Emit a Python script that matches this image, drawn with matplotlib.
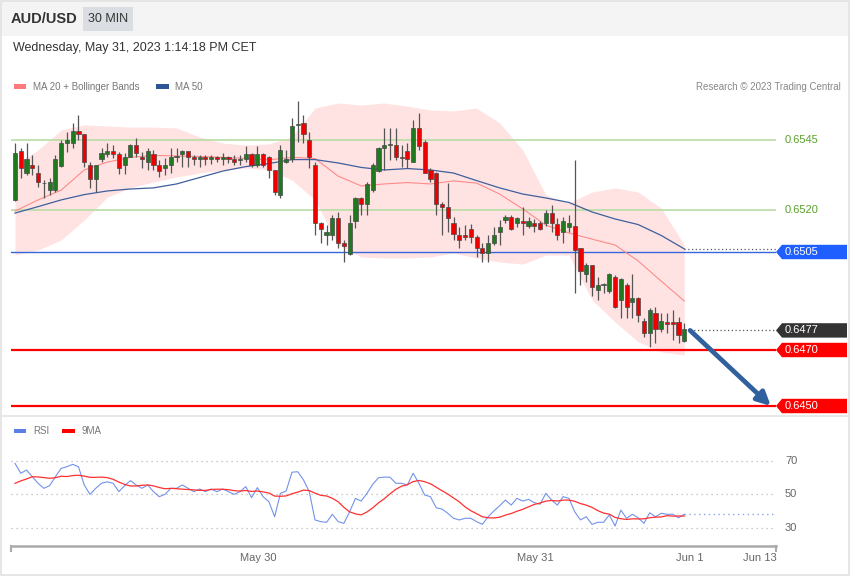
import matplotlib
matplotlib.use("Agg")
import matplotlib.pyplot as plt
import matplotlib.transforms as mtransforms
from matplotlib.patches import Polygon, Rectangle
from matplotlib.lines import Line2D
import numpy as np

plt.rcParams['font.family'] = ['Liberation Sans', 'DejaVu Sans']

# ---------------- data ----------------
symbol = "AUD/USD"
timeframe = "30 MIN"
timestamp = "Wednesday, May 31, 2023 1:14:18 PM CET"

opens = [0.65236, 0.65411, 0.65331, 0.65361, 0.65331, 0.65295, 0.65271, 0.65271, 0.65358, 0.65440,
         0.65440, 0.65482, 0.65470, 0.65361, 0.65311, 0.65382, 0.65401, 0.65411, 0.65401, 0.65361,
         0.65390, 0.65432, 0.65390, 0.65372, 0.65399, 0.65361, 0.65351, 0.65361, 0.65391, 0.65401,
         0.65411, 0.65390, 0.65381, 0.65390, 0.65381, 0.65390, 0.65381, 0.65390, 0.65381, 0.65380,
         0.65381, 0.65399, 0.65361, 0.65399, 0.65390, 0.65343, 0.65254, 0.65373, 0.65381, 0.65505,
         0.65510, 0.65450, 0.65361, 0.65153, 0.65111, 0.65111, 0.65170, 0.65081, 0.65042, 0.65161,
         0.65242, 0.65220, 0.65271, 0.65340, 0.65420, 0.65432, 0.65432, 0.65390, 0.65411, 0.65372,
         0.65492, 0.65444, 0.65343, 0.65331, 0.65221, 0.65210, 0.65153, 0.65111, 0.65111, 0.65131,
         0.65103, 0.65063, 0.65045, 0.65081, 0.65123, 0.65164, 0.65174, 0.65153, 0.65162, 0.65143,
         0.65153, 0.65153, 0.65153, 0.65190, 0.65150, 0.65123, 0.65141, 0.65143, 0.65063, 0.64971,
         0.65004, 0.64914, 0.64932, 0.64912, 0.64962, 0.64879, 0.64932, 0.64872, 0.64885, 0.64805,
         0.64762, 0.64833, 0.64774, 0.64801, 0.64801, 0.64801, 0.64733]
highs = [0.65438, 0.65423, 0.65438, 0.65396, 0.65361, 0.65307, 0.65313, 0.65396, 0.65450, 0.65480,
         0.65510, 0.65539, 0.65472, 0.65372, 0.65362, 0.65420, 0.65438, 0.65432, 0.65408, 0.65403,
         0.65435, 0.65458, 0.65408, 0.65420, 0.65414, 0.65379, 0.65386, 0.65420, 0.65420, 0.65414,
         0.65412, 0.65396, 0.65396, 0.65396, 0.65396, 0.65394, 0.65403, 0.65394, 0.65396, 0.65396,
         0.65430, 0.65403, 0.65430, 0.65404, 0.65394, 0.65344, 0.65432, 0.65414, 0.65528, 0.65589,
         0.65539, 0.65480, 0.65372, 0.65158, 0.65146, 0.65182, 0.65194, 0.65093, 0.65182, 0.65248,
         0.65248, 0.65299, 0.65367, 0.65426, 0.65492, 0.65492, 0.65492, 0.65432, 0.65438, 0.65521,
         0.65545, 0.65450, 0.65349, 0.65337, 0.65229, 0.65295, 0.65176, 0.65141, 0.65146, 0.65150,
         0.65111, 0.65081, 0.65111, 0.65141, 0.65164, 0.65182, 0.65182, 0.65176, 0.65212, 0.65176,
         0.65167, 0.65161, 0.65200, 0.65218, 0.65170, 0.65176, 0.65182, 0.65379, 0.65064, 0.65010,
         0.65005, 0.64962, 0.64938, 0.64974, 0.64968, 0.64956, 0.64938, 0.64971, 0.64890, 0.64813,
         0.64849, 0.64855, 0.64831, 0.64831, 0.64843, 0.64819, 0.64795]
lows = [0.65232, 0.65313, 0.65325, 0.65325, 0.65283, 0.65242, 0.65254, 0.65265, 0.65355, 0.65408,
        0.65420, 0.65450, 0.65355, 0.65277, 0.65263, 0.65372, 0.65390, 0.65385, 0.65330, 0.65330,
        0.65388, 0.65390, 0.65349, 0.65343, 0.65343, 0.65319, 0.65325, 0.65331, 0.65372, 0.65355,
        0.65355, 0.65361, 0.65355, 0.65361, 0.65365, 0.65372, 0.65361, 0.65368, 0.65361, 0.65361,
        0.65372, 0.65355, 0.65355, 0.65355, 0.65313, 0.65254, 0.65243, 0.65367, 0.65372, 0.65444,
        0.65438, 0.65351, 0.65111, 0.65081, 0.65075, 0.65093, 0.65063, 0.65015, 0.65040, 0.65135,
        0.65182, 0.65182, 0.65265, 0.65337, 0.65343, 0.65379, 0.65379, 0.65355, 0.65349, 0.65372,
        0.65414, 0.65332, 0.65301, 0.65182, 0.65111, 0.65123, 0.65093, 0.65063, 0.65093, 0.65081,
        0.65033, 0.65015, 0.65015, 0.65075, 0.65075, 0.65152, 0.65129, 0.65141, 0.65111, 0.65135,
        0.65123, 0.65129, 0.65143, 0.65123, 0.65093, 0.65081, 0.65123, 0.64903, 0.64932, 0.64944,
        0.64893, 0.64879, 0.64902, 0.64902, 0.64849, 0.64813, 0.64813, 0.64813, 0.64801, 0.64748,
        0.64712, 0.64724, 0.64765, 0.64760, 0.64736, 0.64726, 0.64730]
closes = [0.65403, 0.65351, 0.65381, 0.65351, 0.65301, 0.65296, 0.65301, 0.65382, 0.65440, 0.65450,
          0.65482, 0.65470, 0.65372, 0.65311, 0.65361, 0.65403, 0.65411, 0.65401, 0.65349, 0.65390,
          0.65432, 0.65403, 0.65382, 0.65411, 0.65361, 0.65339, 0.65361, 0.65390, 0.65393, 0.65411,
          0.65390, 0.65381, 0.65390, 0.65381, 0.65390, 0.65381, 0.65390, 0.65381, 0.65370, 0.65381,
          0.65399, 0.65361, 0.65399, 0.65361, 0.65343, 0.65263, 0.65414, 0.65381, 0.65501, 0.65506,
          0.65470, 0.65390, 0.65153, 0.65131, 0.65123, 0.65170, 0.65081, 0.65073, 0.65153, 0.65242,
          0.65220, 0.65292, 0.65361, 0.65420, 0.65432, 0.65433, 0.65390, 0.65385, 0.65382, 0.65492,
          0.65429, 0.65333, 0.65310, 0.65221, 0.65212, 0.65170, 0.65114, 0.65093, 0.65103, 0.65103,
          0.65063, 0.65045, 0.65081, 0.65111, 0.65141, 0.65174, 0.65131, 0.65170, 0.65153, 0.65162,
          0.65143, 0.65131, 0.65190, 0.65155, 0.65111, 0.65162, 0.65153, 0.65057, 0.64983, 0.65004,
          0.64924, 0.64932, 0.64936, 0.64971, 0.64852, 0.64952, 0.64852, 0.64885, 0.64825, 0.64762,
          0.64843, 0.64774, 0.64805, 0.64793, 0.64793, 0.64754, 0.64774]

ma_step = 4  # indicator values read every 4th candle
ma20 = [0.65196, 0.65236, 0.65271, 0.65343, 0.65371, 0.65388, 0.65395, 0.65393, 0.65391, 0.65388,
        0.65384, 0.65379, 0.65388, 0.65384, 0.65321, 0.65286, 0.65293, 0.65298, 0.65293, 0.65304,
        0.65296, 0.65257, 0.65204, 0.65146, 0.65118, 0.65096, 0.65075, 0.65018, 0.64946, 0.64875]
ma50 = [0.65189, 0.65212, 0.65236, 0.65255, 0.65268, 0.65275, 0.65279, 0.65293, 0.65316, 0.65339,
        0.65355, 0.65366, 0.65380, 0.65380, 0.65368, 0.65352, 0.65343, 0.65348, 0.65343, 0.65332,
        0.65305, 0.65279, 0.65257, 0.65243, 0.65227, 0.65193, 0.65168, 0.65148, 0.65109, 0.65061]
bb_upper = [0.65361, 0.65414, 0.65486, 0.65504, 0.65500, 0.65496, 0.65496, 0.65493, 0.65461, 0.65439,
            0.65432, 0.65436, 0.65461, 0.65564, 0.65582, 0.65575, 0.65582, 0.65571, 0.65557, 0.65554,
            0.65564, 0.65511, 0.65414, 0.65254, 0.65225, 0.65264, 0.65279, 0.65264, 0.65207, 0.65075]
bb_lower = [0.65039, 0.65057, 0.65093, 0.65164, 0.65246, 0.65279, 0.65300, 0.65318, 0.65332, 0.65343,
            0.65350, 0.65343, 0.65307, 0.65236, 0.65075, 0.65032, 0.65029, 0.65029, 0.65032, 0.65046,
            0.65029, 0.65014, 0.65007, 0.65039, 0.65039, 0.64879, 0.64800, 0.64729, 0.64693, 0.64682]

resistance_levels = [0.6545, 0.6520]
pivot_level = 0.6505
support_levels = [0.6470, 0.6450]
last_price = 0.6477
target_price = 0.6450
target_index = 131

rsi = [68.3, 62.4, 64.3, 60.3, 56.4, 53.4, 55.0, 60.3, 65.3, 66.3,
       67.7, 66.3, 55.4, 49.8, 53.4, 56.4, 57.3, 56.4, 51.4, 55.0,
       58.0, 55.4, 53.4, 55.4, 51.4, 48.4, 49.8, 53.4, 53.4, 55.4,
       53.4, 51.4, 53.0, 51.4, 53.0, 51.4, 53.0, 51.4, 49.8, 51.4,
       54.4, 47.8, 53.8, 48.4, 45.4, 36.4, 50.4, 51.8, 63.0, 63.3,
       58.4, 51.4, 34.5, 33.5, 33.1, 37.9, 33.5, 32.5, 39.4, 47.4,
       45.8, 50.4, 55.8, 59.7, 60.1, 60.0, 56.4, 56.4, 55.4, 62.4,
       56.4, 49.4, 48.4, 41.8, 41.0, 38.5, 35.5, 34.5, 35.5, 35.5,
       33.5, 31.9, 36.4, 39.9, 43.0, 46.4, 43.4, 47.4, 45.8, 46.8,
       44.8, 43.9, 50.4, 46.4, 43.4, 48.4, 47.4, 39.4, 34.5, 36.4,
       31.9, 33.1, 33.1, 37.5, 30.9, 40.4, 35.5, 37.9, 35.8, 32.5,
       38.8, 36.4, 38.5, 37.9, 37.9, 35.8, 37.9]
# 9MA of RSI for the first 8 candles (its earlier inputs are off-chart)
rsi_ma9_head = [56.4, 57.8, 59.0, 60.3, 60.2, 59.8, 59.4, 59.7]
ma9_period = 9
rsi_levels = [70, 50, 30]

date_labels = ["May 30", "May 31", "Jun 1", "Jun 13"]
date_positions = [42.1, 90.1, 117.0, 129.1]

# ---------------- layout helpers ----------------
W, H = 850, 576
def fx(px):
    return px / W
def fy(py):
    return 1 - py / H

fig = plt.figure(figsize=(8.5, 5.76), dpi=100)
fig.patch.set_facecolor("white")

# header band
fig.patches.append(Rectangle((0, fy(36)), 1, 36 / H, transform=fig.transFigure,
                             facecolor="#f4f4f4", edgecolor="none", zorder=0))
fig.patches.append(Rectangle((fx(83), fy(31)), 50 / W, 24 / H, transform=fig.transFigure,
                             facecolor="#dadde2", edgecolor="none", zorder=1))
fig.text(fx(11), fy(19), symbol, fontsize=10.5, fontweight="bold", color="#333333", va="center")
fig.text(fx(108), fy(19), timeframe, fontsize=9, color="#333333", va="center", ha="center")
fig.text(fx(13), fy(48), timestamp, fontsize=9, color="#333333", va="center")

# legend (top)
fig.patches.append(Rectangle((fx(14), fy(88.5)), 12 / W, 4.5 / H, transform=fig.transFigure,
                             facecolor="#ff7b7b", edgecolor="none"))
fig.text(fx(33), fy(86.5), "MA 20 + Bollinger Bands", fontsize=7, color="#777777", va="center")
fig.patches.append(Rectangle((fx(156), fy(88.5)), 13 / W, 4.5 / H, transform=fig.transFigure,
                             facecolor="#2f5597", edgecolor="none"))
fig.text(fx(175), fy(86.5), "MA 50", fontsize=7, color="#777777", va="center")
fig.text(fx(841), fy(86.5), "Research \u00a9 2023 Trading Central", fontsize=7, color="#888888",
         va="center", ha="right")

# RSI legend
fig.patches.append(Rectangle((fx(14), fy(433)), 12 / W, 4.5 / H, transform=fig.transFigure,
                             facecolor="#5b7fe3", edgecolor="none"))
fig.text(fx(33), fy(431), "RSI", fontsize=7, color="#777777", va="center")
fig.patches.append(Rectangle((fx(62), fy(433)), 13 / W, 4.5 / H, transform=fig.transFigure,
                             facecolor="#ff0000", edgecolor="none"))
fig.text(fx(82), fy(431), "9MA", fontsize=7, color="#777777", va="center")

# border + separator
fig.add_artist(Line2D([0, 1], [fy(416), fy(416)], transform=fig.transFigure, color="#e4e4e4", lw=1.2))
fig.patches.append(Rectangle((0.0006, 0.0009), 0.9988, 0.9982, transform=fig.transFigure,
                             fill=False, edgecolor="#e2e2e2", lw=1.2))

# ---------------- price panel ----------------
XL = (-0.693, 131.89)
ax = fig.add_axes([fx(11), fy(415), 765 / W, 355 / H])
ax.set_xlim(*XL)
ax.set_ylim(0.644679, 0.657357)
ax.axis("off")

n = len(closes)
xs = np.arange(n)
x_ma = np.arange(0, n, ma_step)

ax.fill_between(x_ma, bb_lower, bb_upper, color="#ffe3e3", lw=0, zorder=1)

for lv in resistance_levels:
    ax.axhline(lv, color="#b9dca4", lw=1.2, zorder=2)
ax.axhline(pivot_level, color="#3466dc", lw=1.0, zorder=2)
for lv in support_levels:
    ax.axhline(lv, color="#ff0000", lw=1.6, zorder=2)

ax.plot(x_ma, ma20, color="#ff8a8a", lw=0.8, zorder=3)
ax.plot(x_ma, ma50, color="#3f5f9c", lw=0.9, zorder=3)
ax.plot([x_ma[-1], XL[1]], [ma50[-1], ma50[-1]], color="#555b66", lw=0.9,
        linestyle=(0, (1, 2)), zorder=3)
ax.plot([n + 0.0, XL[1]], [last_price, last_price], color="#555555", lw=0.9,
        linestyle=(0, (1, 2)), zorder=3)

# candles
o = np.array(opens); c = np.array(closes); h = np.array(highs); l = np.array(lows)
up = c >= o
ax.vlines(xs, l, h, color="#555555", lw=0.9, zorder=4)
body_bottom = np.minimum(o, c)
body_h = np.maximum(np.abs(c - o), 0.00002)
colors = np.where(up, "#1f7a1f", "#ee0000")
ax.bar(xs, body_h, bottom=body_bottom, width=0.72, color=colors,
       edgecolor="#4a4a4a", linewidth=0.5, zorder=5)

# target arrow
ax.annotate("", xy=(target_index, target_price), xytext=(n + 0.0, last_price),
            arrowprops=dict(arrowstyle="-|>", color="#30609e", lw=3.4,
                            mutation_scale=20, shrinkA=0, shrinkB=0), zorder=6)

# right-side tags
trans = mtransforms.blended_transform_factory(ax.transAxes, ax.transData)
def afx(px):
    return (px - 11) / 765.0
half = 7.2 / 28000.0

def tag(y, text, bg):
    pts = [(afx(776), y), (afx(782), y + half), (afx(847), y + half),
           (afx(847), y - half), (afx(782), y - half)]
    ax.add_patch(Polygon(pts, closed=True, transform=trans, facecolor=bg,
                         edgecolor="none", clip_on=False, zorder=7))
    ax.text(afx(785), y, text, transform=trans, color="white", fontsize=8,
            va="center", ha="left", clip_on=False, zorder=8)

for lv in resistance_levels:
    ax.text(afx(785), lv, f"{lv:.4f}", transform=trans, color="#5aa02c", fontsize=8,
            va="center", ha="left", clip_on=False)
tag(pivot_level, f"{pivot_level:.4f}", "#1f5fff")
tag(last_price, f"{last_price:.4f}", "#333333")
for lv in support_levels:
    tag(lv, f"{lv:.4f}", "#ff0000")

# ---------------- RSI panel ----------------
rax = fig.add_axes([fx(11), fy(546), 765 / W, 106 / H])
rax.set_xlim(*XL)
rax.set_ylim(18.96, 82.24)
for s in ["top", "right", "left"]:
    rax.spines[s].set_visible(False)
rax.spines["bottom"].set_color("#aaaaaa")
rax.spines["bottom"].set_linewidth(1.8)
rax.set_yticks([])
rax.set_xticks([])

rtrans = mtransforms.blended_transform_factory(rax.transAxes, rax.transData)
for lv in rsi_levels:
    rax.plot([XL[0], XL[1]], [lv, lv], color="#bbbbbb", lw=0.9, linestyle=(0, (1, 3)))
    rax.text(1 + 9 / 765, lv, str(lv), transform=rtrans,
             color="#666666", fontsize=8, va="center", ha="left", clip_on=False)

rsi_arr = np.array(rsi)
rsi_ma9 = np.array(rsi_ma9_head + [rsi_arr[i - ma9_period + 1:i + 1].mean()
                                   for i in range(len(rsi_ma9_head), n)])

rax.plot(xs, rsi, color="#7393ea", lw=0.8, zorder=3)
rax.plot([xs[-1], XL[1]], [rsi[-1], rsi[-1]], color="#8aa4ee", lw=1.0, linestyle=(0, (1, 2.5)), zorder=2)
rax.plot(xs, rsi_ma9, color="#ff3030", lw=0.9, zorder=4)

btrans = mtransforms.blended_transform_factory(rax.transData, rax.transAxes)
for xe in XL:
    rax.plot([xe, xe], [0, -5 / 106], transform=btrans, color="#aaaaaa", lw=1.5, clip_on=False)
for lab, pos in zip(date_labels, date_positions):
    rax.text(pos, -12 / 106, lab, transform=btrans, color="#666666", fontsize=8,
             ha="center", va="center", clip_on=False)

fig.savefig("out.png", dpi=100)
